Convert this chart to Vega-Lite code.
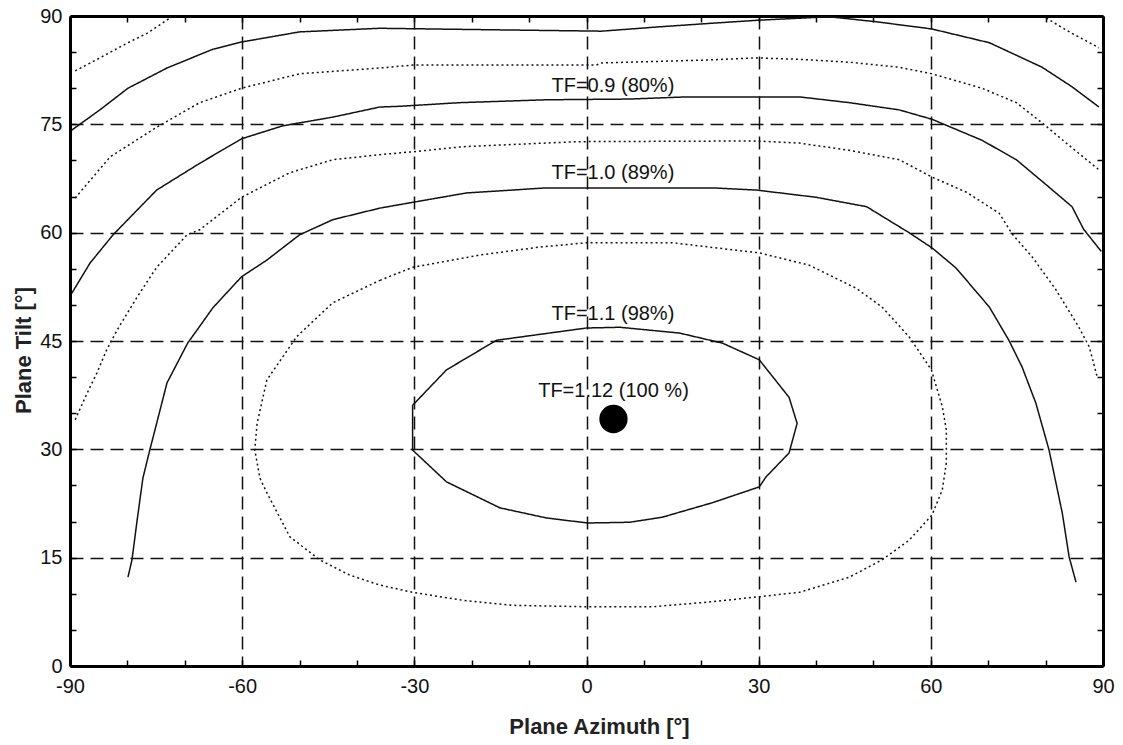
{
  "$schema": "https://vega.github.io/schema/vega-lite/v6.json",
  "width": 1033,
  "height": 650,
  "autosize": {"type": "none"},
  "padding": {"left": 70, "top": 16, "right": 20, "bottom": 79},
  "background": "white",
  "config": {"view": {"stroke": null}, "font": "Liberation Sans", "axis": {"labelFont": "Liberation Sans", "titleFont": "Liberation Sans"}},
  "datasets": {
    "curves": [
      {"curve": "c1", "style": "solid", "i": 1, "az": -89.7, "tilt": 74.2},
      {"curve": "c1", "style": "solid", "i": 2, "az": -84.8, "tilt": 77.0},
      {"curve": "c1", "style": "solid", "i": 3, "az": -79.9, "tilt": 80.0},
      {"curve": "c1", "style": "solid", "i": 4, "az": -73.1, "tilt": 82.8},
      {"curve": "c1", "style": "solid", "i": 5, "az": -65.1, "tilt": 85.4},
      {"curve": "c1", "style": "solid", "i": 6, "az": -60.1, "tilt": 86.4},
      {"curve": "c1", "style": "solid", "i": 7, "az": -50.0, "tilt": 87.8},
      {"curve": "c1", "style": "solid", "i": 8, "az": -36.0, "tilt": 88.3},
      {"curve": "c1", "style": "solid", "i": 9, "az": -17.2, "tilt": 88.1},
      {"curve": "c1", "style": "solid", "i": 10, "az": 2.6, "tilt": 87.9},
      {"curve": "c1", "style": "solid", "i": 11, "az": 12.7, "tilt": 88.5},
      {"curve": "c1", "style": "solid", "i": 12, "az": 21.9, "tilt": 89.0},
      {"curve": "c1", "style": "solid", "i": 13, "az": 29.6, "tilt": 89.4},
      {"curve": "c1", "style": "solid", "i": 14, "az": 42.3, "tilt": 89.9},
      {"curve": "c1", "style": "solid", "i": 15, "az": 50.5, "tilt": 89.2},
      {"curve": "c1", "style": "solid", "i": 16, "az": 60.2, "tilt": 88.2},
      {"curve": "c1", "style": "solid", "i": 17, "az": 70.2, "tilt": 86.3},
      {"curve": "c1", "style": "solid", "i": 18, "az": 79.4, "tilt": 82.9},
      {"curve": "c1", "style": "solid", "i": 19, "az": 84.6, "tilt": 80.2},
      {"curve": "c1", "style": "solid", "i": 20, "az": 89.3, "tilt": 77.4},

      {"curve": "c2a", "style": "dotted", "i": 1, "az": -89.1, "tilt": 82.4},
      {"curve": "c2a", "style": "dotted", "i": 2, "az": -84.8, "tilt": 84.2},
      {"curve": "c2a", "style": "dotted", "i": 3, "az": -79.9, "tilt": 86.3},
      {"curve": "c2a", "style": "dotted", "i": 4, "az": -76.6, "tilt": 87.6},
      {"curve": "c2a", "style": "dotted", "i": 5, "az": -72.6, "tilt": 89.7},

      {"curve": "c2b", "style": "dotted", "i": 1, "az": 80.1, "tilt": 89.7},
      {"curve": "c2b", "style": "dotted", "i": 2, "az": 84.6, "tilt": 87.6},
      {"curve": "c2b", "style": "dotted", "i": 3, "az": 89.3, "tilt": 85.6},

      {"curve": "c3", "style": "dotted", "i": 1, "az": -89.1, "tilt": 64.8},
      {"curve": "c3", "style": "dotted", "i": 2, "az": -83.0, "tilt": 70.5},
      {"curve": "c3", "style": "dotted", "i": 3, "az": -74.9, "tilt": 74.6},
      {"curve": "c3", "style": "dotted", "i": 4, "az": -67.4, "tilt": 78.0},
      {"curve": "c3", "style": "dotted", "i": 5, "az": -60.1, "tilt": 80.0},
      {"curve": "c3", "style": "dotted", "i": 6, "az": -50.0, "tilt": 82.0},
      {"curve": "c3", "style": "dotted", "i": 7, "az": -36.0, "tilt": 82.8},
      {"curve": "c3", "style": "dotted", "i": 8, "az": -30.3, "tilt": 83.2},
      {"curve": "c3", "style": "dotted", "i": 9, "az": 1.7, "tilt": 83.2},
      {"curve": "c3", "style": "dotted", "i": 10, "az": 2.6, "tilt": 83.5},
      {"curve": "c3", "style": "dotted", "i": 11, "az": 20.9, "tilt": 83.9},
      {"curve": "c3", "style": "dotted", "i": 12, "az": 29.6, "tilt": 84.2},
      {"curve": "c3", "style": "dotted", "i": 13, "az": 37.1, "tilt": 84.0},
      {"curve": "c3", "style": "dotted", "i": 14, "az": 45.8, "tilt": 83.6},
      {"curve": "c3", "style": "dotted", "i": 15, "az": 54.5, "tilt": 82.9},
      {"curve": "c3", "style": "dotted", "i": 16, "az": 60.2, "tilt": 82.0},
      {"curve": "c3", "style": "dotted", "i": 17, "az": 68.9, "tilt": 80.0},
      {"curve": "c3", "style": "dotted", "i": 18, "az": 74.9, "tilt": 78.0},
      {"curve": "c3", "style": "dotted", "i": 19, "az": 79.4, "tilt": 75.2},
      {"curve": "c3", "style": "dotted", "i": 20, "az": 83.6, "tilt": 72.4},
      {"curve": "c3", "style": "dotted", "i": 21, "az": 89.3, "tilt": 68.7},

      {"curve": "c4", "style": "solid", "i": 1, "az": -89.7, "tilt": 51.6},
      {"curve": "c4", "style": "solid", "i": 2, "az": -86.5, "tilt": 55.8},
      {"curve": "c4", "style": "solid", "i": 3, "az": -82.5, "tilt": 59.7},
      {"curve": "c4", "style": "solid", "i": 4, "az": -74.9, "tilt": 65.9},
      {"curve": "c4", "style": "solid", "i": 5, "az": -67.4, "tilt": 69.6},
      {"curve": "c4", "style": "solid", "i": 6, "az": -60.1, "tilt": 73.0},
      {"curve": "c4", "style": "solid", "i": 7, "az": -52.9, "tilt": 74.8},
      {"curve": "c4", "style": "solid", "i": 8, "az": -44.2, "tilt": 76.0},
      {"curve": "c4", "style": "solid", "i": 9, "az": -36.0, "tilt": 77.4},
      {"curve": "c4", "style": "solid", "i": 10, "az": -32.5, "tilt": 77.5},
      {"curve": "c4", "style": "solid", "i": 11, "az": -22.1, "tilt": 78.0},
      {"curve": "c4", "style": "solid", "i": 12, "az": -7.0, "tilt": 78.4},
      {"curve": "c4", "style": "solid", "i": 13, "az": 7.5, "tilt": 78.5},
      {"curve": "c4", "style": "solid", "i": 14, "az": 17.4, "tilt": 78.8},
      {"curve": "c4", "style": "solid", "i": 15, "az": 37.1, "tilt": 78.8},
      {"curve": "c4", "style": "solid", "i": 16, "az": 45.8, "tilt": 78.0},
      {"curve": "c4", "style": "solid", "i": 17, "az": 54.5, "tilt": 77.0},
      {"curve": "c4", "style": "solid", "i": 18, "az": 60.2, "tilt": 75.7},
      {"curve": "c4", "style": "solid", "i": 19, "az": 68.9, "tilt": 72.8},
      {"curve": "c4", "style": "solid", "i": 20, "az": 74.9, "tilt": 70.1},
      {"curve": "c4", "style": "solid", "i": 21, "az": 80.6, "tilt": 66.3},
      {"curve": "c4", "style": "solid", "i": 22, "az": 84.6, "tilt": 63.6},
      {"curve": "c4", "style": "solid", "i": 23, "az": 86.6, "tilt": 60.5},
      {"curve": "c4", "style": "solid", "i": 24, "az": 89.7, "tilt": 57.4},

      {"curve": "c5", "style": "dotted", "i": 1, "az": -89.1, "tilt": 34.1},
      {"curve": "c5", "style": "dotted", "i": 2, "az": -87.0, "tilt": 37.8},
      {"curve": "c5", "style": "dotted", "i": 3, "az": -85.3, "tilt": 40.6},
      {"curve": "c5", "style": "dotted", "i": 4, "az": -83.6, "tilt": 43.8},
      {"curve": "c5", "style": "dotted", "i": 5, "az": -81.8, "tilt": 46.5},
      {"curve": "c5", "style": "dotted", "i": 6, "az": -78.3, "tilt": 51.1},
      {"curve": "c5", "style": "dotted", "i": 7, "az": -74.9, "tilt": 55.2},
      {"curve": "c5", "style": "dotted", "i": 8, "az": -69.6, "tilt": 59.7},
      {"curve": "c5", "style": "dotted", "i": 9, "az": -67.4, "tilt": 60.4},
      {"curve": "c5", "style": "dotted", "i": 10, "az": -60.1, "tilt": 64.9},
      {"curve": "c5", "style": "dotted", "i": 11, "az": -51.7, "tilt": 68.3},
      {"curve": "c5", "style": "dotted", "i": 12, "az": -44.2, "tilt": 70.1},
      {"curve": "c5", "style": "dotted", "i": 13, "az": -36.0, "tilt": 70.8},
      {"curve": "c5", "style": "dotted", "i": 14, "az": -30.3, "tilt": 71.2},
      {"curve": "c5", "style": "dotted", "i": 15, "az": -21.6, "tilt": 71.9},
      {"curve": "c5", "style": "dotted", "i": 16, "az": -1.7, "tilt": 72.6},
      {"curve": "c5", "style": "dotted", "i": 17, "az": 29.6, "tilt": 72.7},
      {"curve": "c5", "style": "dotted", "i": 18, "az": 37.1, "tilt": 72.4},
      {"curve": "c5", "style": "dotted", "i": 19, "az": 45.8, "tilt": 71.4},
      {"curve": "c5", "style": "dotted", "i": 20, "az": 54.5, "tilt": 70.1},
      {"curve": "c5", "style": "dotted", "i": 21, "az": 60.2, "tilt": 67.7},
      {"curve": "c5", "style": "dotted", "i": 22, "az": 66.2, "tilt": 65.6},
      {"curve": "c5", "style": "dotted", "i": 23, "az": 71.9, "tilt": 62.7},
      {"curve": "c5", "style": "dotted", "i": 24, "az": 74.2, "tilt": 59.8},
      {"curve": "c5", "style": "dotted", "i": 25, "az": 77.7, "tilt": 56.6},
      {"curve": "c5", "style": "dotted", "i": 26, "az": 81.8, "tilt": 52.1},
      {"curve": "c5", "style": "dotted", "i": 27, "az": 85.8, "tilt": 46.9},
      {"curve": "c5", "style": "dotted", "i": 28, "az": 87.6, "tilt": 44.2},
      {"curve": "c5", "style": "dotted", "i": 29, "az": 89.0, "tilt": 40.0},

      {"curve": "c6", "style": "solid", "i": 1, "az": -79.9, "tilt": 12.3},
      {"curve": "c6", "style": "solid", "i": 2, "az": -79.2, "tilt": 14.7},
      {"curve": "c6", "style": "solid", "i": 3, "az": -78.3, "tilt": 20.2},
      {"curve": "c6", "style": "solid", "i": 4, "az": -77.3, "tilt": 26.0},
      {"curve": "c6", "style": "solid", "i": 5, "az": -76.1, "tilt": 29.9},
      {"curve": "c6", "style": "solid", "i": 6, "az": -74.9, "tilt": 33.6},
      {"curve": "c6", "style": "solid", "i": 7, "az": -73.1, "tilt": 39.2},
      {"curve": "c6", "style": "solid", "i": 8, "az": -69.5, "tilt": 44.7},
      {"curve": "c6", "style": "solid", "i": 9, "az": -65.1, "tilt": 49.6},
      {"curve": "c6", "style": "solid", "i": 10, "az": -60.1, "tilt": 53.9},
      {"curve": "c6", "style": "solid", "i": 11, "az": -55.7, "tilt": 56.2},
      {"curve": "c6", "style": "solid", "i": 12, "az": -50.0, "tilt": 59.7},
      {"curve": "c6", "style": "solid", "i": 13, "az": -44.2, "tilt": 61.8},
      {"curve": "c6", "style": "solid", "i": 14, "az": -36.0, "tilt": 63.4},
      {"curve": "c6", "style": "solid", "i": 15, "az": -30.3, "tilt": 64.2},
      {"curve": "c6", "style": "solid", "i": 16, "az": -20.9, "tilt": 65.5},
      {"curve": "c6", "style": "solid", "i": 17, "az": -7.0, "tilt": 66.2},
      {"curve": "c6", "style": "solid", "i": 18, "az": 21.9, "tilt": 66.2},
      {"curve": "c6", "style": "solid", "i": 19, "az": 29.6, "tilt": 65.9},
      {"curve": "c6", "style": "solid", "i": 20, "az": 40.0, "tilt": 64.9},
      {"curve": "c6", "style": "solid", "i": 21, "az": 48.8, "tilt": 63.6},
      {"curve": "c6", "style": "solid", "i": 22, "az": 56.2, "tilt": 60.0},
      {"curve": "c6", "style": "solid", "i": 23, "az": 60.2, "tilt": 57.9},
      {"curve": "c6", "style": "solid", "i": 24, "az": 64.4, "tilt": 55.1},
      {"curve": "c6", "style": "solid", "i": 25, "az": 70.2, "tilt": 49.7},
      {"curve": "c6", "style": "solid", "i": 26, "az": 73.6, "tilt": 45.1},
      {"curve": "c6", "style": "solid", "i": 27, "az": 75.9, "tilt": 41.4},
      {"curve": "c6", "style": "solid", "i": 28, "az": 78.3, "tilt": 36.4},
      {"curve": "c6", "style": "solid", "i": 29, "az": 80.6, "tilt": 29.9},
      {"curve": "c6", "style": "solid", "i": 30, "az": 82.9, "tilt": 21.2},
      {"curve": "c6", "style": "solid", "i": 31, "az": 84.1, "tilt": 15.1},
      {"curve": "c6", "style": "solid", "i": 32, "az": 85.3, "tilt": 11.6},

      {"curve": "c7", "style": "dotted", "i": 1, "az": -36.0, "tilt": 53.4},
      {"curve": "c7", "style": "dotted", "i": 2, "az": -30.3, "tilt": 55.2},
      {"curve": "c7", "style": "dotted", "i": 3, "az": -18.6, "tilt": 56.9},
      {"curve": "c7", "style": "dotted", "i": 4, "az": -8.2, "tilt": 58.0},
      {"curve": "c7", "style": "dotted", "i": 5, "az": 0.0, "tilt": 58.6},
      {"curve": "c7", "style": "dotted", "i": 6, "az": 15.0, "tilt": 58.6},
      {"curve": "c7", "style": "dotted", "i": 7, "az": 30.1, "tilt": 57.2},
      {"curve": "c7", "style": "dotted", "i": 8, "az": 38.8, "tilt": 55.5},
      {"curve": "c7", "style": "dotted", "i": 9, "az": 47.0, "tilt": 52.3},
      {"curve": "c7", "style": "dotted", "i": 10, "az": 51.5, "tilt": 49.7},
      {"curve": "c7", "style": "dotted", "i": 11, "az": 56.2, "tilt": 45.6},
      {"curve": "c7", "style": "dotted", "i": 12, "az": 60.1, "tilt": 41.0},
      {"curve": "c7", "style": "dotted", "i": 13, "az": 62.0, "tilt": 35.9},
      {"curve": "c7", "style": "dotted", "i": 14, "az": 62.7, "tilt": 32.7},
      {"curve": "c7", "style": "dotted", "i": 15, "az": 62.7, "tilt": 28.1},
      {"curve": "c7", "style": "dotted", "i": 16, "az": 62.0, "tilt": 24.4},
      {"curve": "c7", "style": "dotted", "i": 17, "az": 60.2, "tilt": 20.9},
      {"curve": "c7", "style": "dotted", "i": 18, "az": 56.2, "tilt": 17.4},
      {"curve": "c7", "style": "dotted", "i": 19, "az": 51.5, "tilt": 14.7},
      {"curve": "c7", "style": "dotted", "i": 20, "az": 45.8, "tilt": 12.3},
      {"curve": "c7", "style": "dotted", "i": 21, "az": 37.1, "tilt": 10.2},
      {"curve": "c7", "style": "dotted", "i": 22, "az": 30.1, "tilt": 9.6},
      {"curve": "c7", "style": "dotted", "i": 23, "az": 21.9, "tilt": 8.9},
      {"curve": "c7", "style": "dotted", "i": 24, "az": 11.5, "tilt": 8.2},
      {"curve": "c7", "style": "dotted", "i": 25, "az": 0.2, "tilt": 8.2},
      {"curve": "c7", "style": "dotted", "i": 26, "az": -12.9, "tilt": 8.4},
      {"curve": "c7", "style": "dotted", "i": 27, "az": -21.6, "tilt": 9.1},
      {"curve": "c7", "style": "dotted", "i": 28, "az": -30.3, "tilt": 10.2},
      {"curve": "c7", "style": "dotted", "i": 29, "az": -36.0, "tilt": 11.2},
      {"curve": "c7", "style": "dotted", "i": 30, "az": -41.3, "tilt": 12.6},
      {"curve": "c7", "style": "dotted", "i": 31, "az": -46.5, "tilt": 14.7},
      {"curve": "c7", "style": "dotted", "i": 32, "az": -51.7, "tilt": 17.9},
      {"curve": "c7", "style": "dotted", "i": 33, "az": -55.7, "tilt": 24.0},
      {"curve": "c7", "style": "dotted", "i": 34, "az": -56.9, "tilt": 26.0},
      {"curve": "c7", "style": "dotted", "i": 35, "az": -57.8, "tilt": 29.9},
      {"curve": "c7", "style": "dotted", "i": 36, "az": -57.4, "tilt": 33.6},
      {"curve": "c7", "style": "dotted", "i": 37, "az": -55.7, "tilt": 39.6},
      {"curve": "c7", "style": "dotted", "i": 38, "az": -50.5, "tilt": 45.6},
      {"curve": "c7", "style": "dotted", "i": 39, "az": -44.2, "tilt": 50.3},
      {"curve": "c7", "style": "dotted", "i": 40, "az": -36.0, "tilt": 53.4},

      {"curve": "c8", "style": "solid", "i": 1, "az": -30.3, "tilt": 36.1},
      {"curve": "c8", "style": "solid", "i": 2, "az": -24.4, "tilt": 41.0},
      {"curve": "c8", "style": "solid", "i": 3, "az": -15.7, "tilt": 45.1},
      {"curve": "c8", "style": "solid", "i": 4, "az": 0.0, "tilt": 46.8},
      {"curve": "c8", "style": "solid", "i": 5, "az": 5.8, "tilt": 46.9},
      {"curve": "c8", "style": "solid", "i": 6, "az": 16.2, "tilt": 46.1},
      {"curve": "c8", "style": "solid", "i": 7, "az": 23.7, "tilt": 44.7},
      {"curve": "c8", "style": "solid", "i": 8, "az": 30.1, "tilt": 42.4},
      {"curve": "c8", "style": "solid", "i": 9, "az": 35.3, "tilt": 37.2},
      {"curve": "c8", "style": "solid", "i": 10, "az": 36.7, "tilt": 33.6},
      {"curve": "c8", "style": "solid", "i": 11, "az": 35.3, "tilt": 29.5},
      {"curve": "c8", "style": "solid", "i": 12, "az": 31.3, "tilt": 26.2},
      {"curve": "c8", "style": "solid", "i": 13, "az": 30.1, "tilt": 24.8},
      {"curve": "c8", "style": "solid", "i": 14, "az": 21.9, "tilt": 22.6},
      {"curve": "c8", "style": "solid", "i": 15, "az": 13.2, "tilt": 20.6},
      {"curve": "c8", "style": "solid", "i": 16, "az": 7.5, "tilt": 19.9},
      {"curve": "c8", "style": "solid", "i": 17, "az": 0.2, "tilt": 19.8},
      {"curve": "c8", "style": "solid", "i": 18, "az": -7.0, "tilt": 20.5},
      {"curve": "c8", "style": "solid", "i": 19, "az": -15.1, "tilt": 21.9},
      {"curve": "c8", "style": "solid", "i": 20, "az": -24.4, "tilt": 25.5},
      {"curve": "c8", "style": "solid", "i": 21, "az": -30.3, "tilt": 29.9},
      {"curve": "c8", "style": "solid", "i": 22, "az": -30.3, "tilt": 36.1}
    ],
    "labels": [
      {"az": 4.6, "tilt": 80.3, "label": "TF=0.9 (80%)"},
      {"az": 4.6, "tilt": 68.2, "label": "TF=1.0 (89%)"},
      {"az": 4.6, "tilt": 48.7, "label": "TF=1.1 (98%)"},
      {"az": 4.7, "tilt": 38.1, "label": "TF=1.12 (100 %)"}
    ],
    "peak": [
      {"az": 4.7, "tilt": 34.2}
    ]
  },
  "resolve": {"axis": {"x": "independent", "y": "independent"}},
  "layer": [
    {
      "data": {"name": "curves"},
      "mark": {"type": "line", "strokeWidth": 1.5, "color": "#111"},
      "encoding": {
        "x": {
          "field": "az", "type": "quantitative",
          "scale": {"domain": [-90, 90], "nice": false, "zero": false},
          "axis": {
            "orient": "bottom",
            "values": [-90, -80, -70, -60, -50, -40, -30, -20, -10, 0, 10, 20, 30, 40, 50, 60, 70, 80, 90],
            "title": "Plane Azimuth [°]",
            "titleFontSize": 22, "titleFontWeight": "bold", "titleColor": "#222",
            "titleX": 529, "titleY": 50,
            "labelExpr": "datum.value % 30 === 0 ? toString(datum.value) : ''",
            "labelFontSize": 20, "labelColor": "#111", "labelPadding": 16,
            "labelFlush": false, "labelOverlap": false,
            "domainColor": "#000", "domainWidth": 3,
            "tickColor": "#000", "tickWidth": 1.5, "tickSize": -6,
            "grid": true, "gridColor": "#111", "gridWidth": 1.5, "gridDash": [13, 7],
            "gridOpacity": {"condition": {"test": "datum.value % 30 === 0", "value": 1}, "value": 0}
          }
        },
        "y": {
          "field": "tilt", "type": "quantitative",
          "scale": {"domain": [0, 90], "nice": false, "zero": false},
          "axis": {
            "orient": "left",
            "values": [0, 5, 10, 15, 20, 25, 30, 35, 40, 45, 50, 55, 60, 65, 70, 75, 80, 85, 90],
            "title": "Plane Tilt [°]",
            "titleFontSize": 22, "titleFontWeight": "bold", "titleColor": "#222",
            "titleX": -35, "titleY": 334, "titleBaseline": "bottom", "titleAngle": -90,
            "labelExpr": "datum.value % 15 === 0 ? toString(datum.value) : ''",
            "labelFontSize": 20, "labelColor": "#111", "labelPadding": 14,
            "labelFlush": false, "labelOverlap": false,
            "domainColor": "#000", "domainWidth": 3,
            "tickColor": "#000", "tickWidth": 1.5, "tickSize": -6,
            "grid": true, "gridColor": "#111", "gridWidth": 1.5, "gridDash": [13, 7],
            "gridOpacity": {"condition": {"test": "datum.value % 15 === 0", "value": 1}, "value": 0}
          }
        },
        "detail": {"field": "curve"},
        "order": {"field": "i", "type": "quantitative"},
        "strokeDash": {
          "field": "style", "type": "nominal",
          "scale": {"domain": ["solid", "dotted"], "range": [[1, 0], [2, 3]]},
          "legend": null
        }
      }
    },
    {
      "data": {"name": "labels"},
      "mark": {"type": "text", "fontSize": 20, "font": "Liberation Sans", "color": "#111", "align": "center", "baseline": "middle"},
      "encoding": {
        "x": {"field": "az", "type": "quantitative", "axis": null},
        "y": {"field": "tilt", "type": "quantitative", "axis": null},
        "text": {"field": "label"}
      }
    },
    {
      "data": {"name": "peak"},
      "mark": {"type": "circle", "size": 800, "color": "#000", "opacity": 1},
      "encoding": {
        "x": {
          "field": "az", "type": "quantitative",
          "axis": {
            "orient": "top", "values": [-90, -80, -70, -60, -50, -40, -30, -20, -10, 0, 10, 20, 30, 40, 50, 60, 70, 80, 90],
            "labels": false, "title": null, "grid": false,
            "domainColor": "#000", "domainWidth": 3,
            "tickColor": "#000", "tickWidth": 1.5, "tickSize": -6
          }
        },
        "y": {
          "field": "tilt", "type": "quantitative",
          "axis": {
            "orient": "right", "values": [0, 5, 10, 15, 20, 25, 30, 35, 40, 45, 50, 55, 60, 65, 70, 75, 80, 85, 90],
            "labels": false, "title": null, "grid": false,
            "domainColor": "#000", "domainWidth": 3,
            "tickColor": "#000", "tickWidth": 1.5, "tickSize": -6
          }
        }
      }
    }
  ]
}
